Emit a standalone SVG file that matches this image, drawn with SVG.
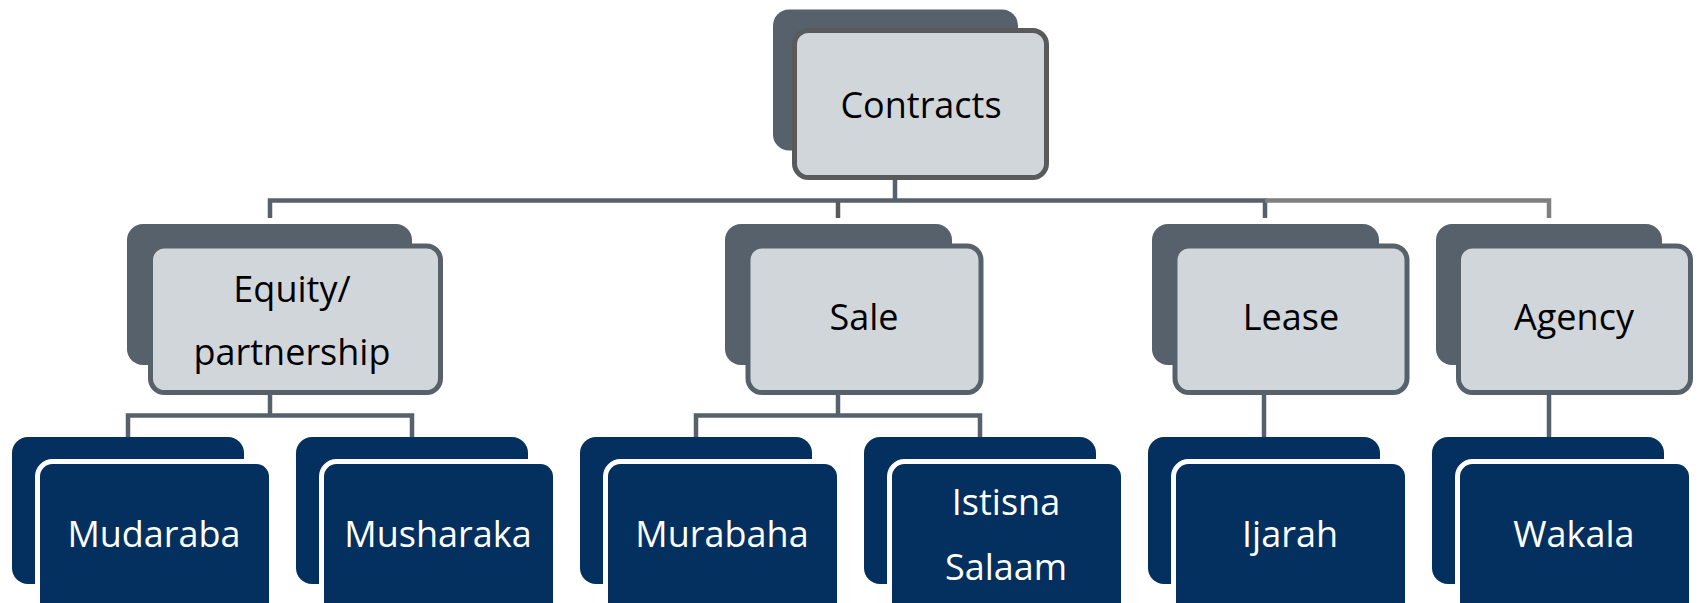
<svg xmlns="http://www.w3.org/2000/svg" width="1698" height="603" viewBox="0 0 1698 603">
<style>
  .bg{fill:#FFFFFF}
  .mback{fill:#56616C}
  .mfront{fill:#D1D6DB;stroke:#56616C;stroke-width:5}
  .cfront{fill:#D1D6DB;stroke:#5A5A5A;stroke-width:5}
  .lback{fill:#03305E}
  .lfront{fill:#03305E;stroke:#FFFFFF;stroke-width:5}
  .t{font-family:"Open Sans","Liberation Sans",sans-serif;font-size:36px;text-anchor:middle}
  .dark{fill:#000000}
  .light{fill:#FFFFFF}
  .c{fill:none;stroke:#56616C;stroke-width:4.5}
  .cg{fill:none;stroke:#7F7F7F;stroke-width:4.5}
  .cd{fill:none;stroke:#5A5A5A;stroke-width:4.5}
</style>
<rect class="bg" x="0" y="0" width="1698" height="603"/>
<g id="connectors">
  <path class="c" d="M895,180 V200.5"/>
  <path class="c" d="M270,218 V200.5 H1265 V218"/>
  <path class="cg" d="M1265,200.5 H1549 V218"/>
  <path class="cd" d="M838,202 V218"/>
  <path class="c" d="M270,395 V415.5"/>
  <path class="c" d="M128,437 V415.5 H412 V437"/>
  <path class="c" d="M838,395 V415.5"/>
  <path class="c" d="M696,437 V415.5 H980 V437"/>
  <path class="c" d="M1264,395 V437"/>
  <path class="c" d="M1549,395 V437"/>
</g>
<g id="contracts">
  <rect class="mback" x="773" y="9.5" width="245" height="141" rx="16"/>
  <rect class="cfront" x="794.5" y="30.5" width="252" height="147" rx="14"/>
  <text class="t dark" x="921" y="118">Contracts</text>
</g>
<g id="equity">
  <rect class="mback" x="127" y="224" width="285" height="141" rx="16"/>
  <rect class="mfront" x="150.5" y="246" width="290" height="146.5" rx="14"/>
  <text class="t dark" x="292" y="302">Equity/</text>
  <text class="t dark" x="292" y="365">partnership</text>
</g>
<g id="sale">
  <rect class="mback" x="725" y="224" width="227" height="141" rx="16"/>
  <rect class="mfront" x="748" y="246" width="233" height="146.5" rx="14"/>
  <text class="t dark" x="864" y="330">Sale</text>
</g>
<g id="lease">
  <rect class="mback" x="1152" y="224" width="227" height="141" rx="16"/>
  <rect class="mfront" x="1175" y="246" width="232" height="146.5" rx="14"/>
  <text class="t dark" x="1291" y="330">Lease</text>
</g>
<g id="agency">
  <rect class="mback" x="1436" y="224" width="226" height="141" rx="16"/>
  <rect class="mfront" x="1458.5" y="246" width="232" height="146.5" rx="14"/>
  <text class="t dark" x="1574" y="330">Agency</text>
</g>
<g id="mudaraba">
  <rect class="lback" x="12" y="437" width="232" height="147" rx="16"/>
  <rect class="lfront" x="37.5" y="461.5" width="234" height="160" rx="15"/>
  <text class="t light" x="154" y="547">Mudaraba</text>
</g>
<g id="musharaka">
  <rect class="lback" x="296" y="437" width="232" height="147" rx="16"/>
  <rect class="lfront" x="321.5" y="461.5" width="234" height="160" rx="15"/>
  <text class="t light" x="438" y="547">Musharaka</text>
</g>
<g id="murabaha">
  <rect class="lback" x="580" y="437" width="232" height="147" rx="16"/>
  <rect class="lfront" x="605.5" y="461.5" width="234" height="160" rx="15"/>
  <text class="t light" x="722" y="547">Murabaha</text>
</g>
<g id="istisna">
  <rect class="lback" x="864" y="437" width="232" height="147" rx="16"/>
  <rect class="lfront" x="889.5" y="461.5" width="234" height="160" rx="15"/>
  <text class="t light" x="1006" y="515">Istisna</text>
  <text class="t light" x="1006" y="580">Salaam</text>
</g>
<g id="ijarah">
  <rect class="lback" x="1148" y="437" width="232" height="147" rx="16"/>
  <rect class="lfront" x="1173.5" y="461.5" width="234" height="160" rx="15"/>
  <text class="t light" x="1290" y="547">Ijarah</text>
</g>
<g id="wakala">
  <rect class="lback" x="1432" y="437" width="232" height="147" rx="16"/>
  <rect class="lfront" x="1457.5" y="461.5" width="234" height="160" rx="15"/>
  <text class="t light" x="1574" y="547">Wakala</text>
</g>
</svg>
